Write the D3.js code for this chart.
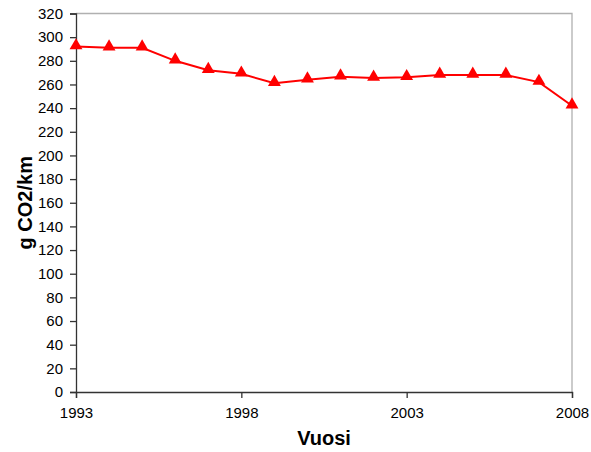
<!DOCTYPE html>
<html><head><meta charset="utf-8">
<script src="https://cdn.jsdelivr.net/npm/d3@7"></script>
<style>body{margin:0;background:#fff}svg{display:block}</style>
</head><body>
<script>
const years = [1993,1994,1995,1996,1997,1998,1999,2000,2001,2002,2003,2004,2005,2006,2007,2008];
const values = [292,291,291,280,272,269,261,264,266.5,265.5,266,268,268,268,262,242];
const xTicks = [1993,1998,2003,2008];
const yTicks = d3.range(0,321,20);
const xTitle = "Vuosi";
const yTitle = "g CO2/km";

const W=591,H=452;
const m={l:76,r:19,t:13.5,b:60};
const svg=d3.select("body").append("svg").attr("width",W).attr("height",H);
const x=d3.scaleLinear().domain([1993,2008]).range([m.l,W-m.r]);
const y=d3.scaleLinear().domain([0,320]).range([H-m.b,m.t]);
const font="Liberation Sans, Arial, sans-serif";

svg.append("path").attr("d",`M${x(1993)},${y(320)}H${x(2008)}V${y(0)}`).attr("fill","none").attr("stroke","#b0b0b0").attr("stroke-width",1.3);

const ya=svg.append("g").attr("transform",`translate(${m.l},0)`).call(d3.axisLeft(y).tickValues(yTicks).tickSize(6).tickPadding(7));
const xa=svg.append("g").attr("transform",`translate(0,${y(0)})`).call(d3.axisBottom(x).tickValues(xTicks).tickFormat(d3.format("d")).tickSize(6).tickPadding(9));
[ya,xa].forEach(a=>{a.selectAll("text").attr("font-family",font).attr("font-size",15).attr("fill","#000");
 a.selectAll("line,path").attr("stroke","#333").attr("stroke-width",1.3);});

svg.append("path").datum(values).attr("fill","none").attr("stroke","#ff0000").attr("stroke-width",2)
 .attr("d",d3.line().x((d,i)=>x(years[i])).y(d=>y(d)));
const tri=d3.symbol().type(d3.symbolTriangle).size(72);
svg.selectAll(".mk").data(values).join("path").attr("class","mk")
 .attr("transform",(d,i)=>`translate(${x(years[i])},${y(d)-1})`).attr("d",tri).attr("fill","#ff0000");

svg.append("text").attr("x",(x(1993)+x(2008))/2).attr("y",445).attr("text-anchor","middle")
 .attr("font-family",font).attr("font-weight","bold").attr("font-size",20).text(xTitle);
svg.append("text").attr("transform",`translate(32,${(y(0)+y(320))/2}) rotate(-90)`).attr("text-anchor","middle")
 .attr("font-family",font).attr("font-weight","bold").attr("font-size",20).text(yTitle);
</script>
</body></html>
